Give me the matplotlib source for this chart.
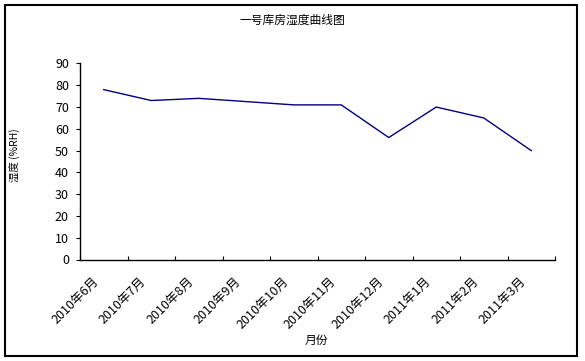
import matplotlib
matplotlib.use("Agg")
import matplotlib.pyplot as plt
from matplotlib.patches import Rectangle

plt.rcParams['font.family'] = ['Noto Sans CJK SC', 'DejaVu Sans']

months = ["2010年6月", "2010年7月", "2010年8月", "2010年9月", "2010年10月",
          "2010年11月", "2010年12月", "2011年1月", "2011年2月", "2011年3月"]
humidity = [78, 73, 74, 72.5, 71, 71, 56, 70, 65, 50]
y_ticks = [0, 10, 20, 30, 40, 50, 60, 70, 80, 90]

fig = plt.figure(figsize=(5.85, 3.61), dpi=100)
fig.patches.append(Rectangle((4.5/585, 1 - 356/361), 572/585, 351/361,
                             transform=fig.transFigure, fill=False,
                             edgecolor='black', linewidth=1.5))

ax = fig.add_axes([80/585, 1 - 259.5/361, 475/585, 196/361])
x = list(range(len(months)))
ax.plot(x, humidity, color='#000080', linewidth=1.0)

ax.set_xlim(-0.5, len(months) - 0.5)
ax.set_ylim(0, 90)
ax.set_yticks(y_ticks)
ax.tick_params(axis='y', direction='out', length=3, width=0.8, labelsize=9, pad=5)

# category boundaries as tick marks
ax.set_xticks([i - 0.5 for i in range(len(months) + 1)])
ax.set_xticklabels([])
ax.tick_params(axis='x', direction='in', length=3, width=0.8)
for i, m in enumerate(months):
    ax.text(i - 0.25, -7, m, rotation=45, ha='right', va='top',
            rotation_mode='anchor', fontsize=9, transform=ax.transData)

for s in ['top', 'right']:
    ax.spines[s].set_visible(False)
for s in ['left', 'bottom']:
    ax.spines[s].set_linewidth(1.0)

fig.text(292/585, 1 - 20/361, "一号库房湿度曲线图", ha='center', va='center', fontsize=8.5)
fig.text(15/585, 1 - 155/361, "湿度 (%RH)", ha='center', va='center', rotation=90, fontsize=7.5)
fig.text(316/585, 1 - 340/361, "月份", ha='center', va='center', fontsize=8.5)

fig.savefig("out.png", dpi=100)
